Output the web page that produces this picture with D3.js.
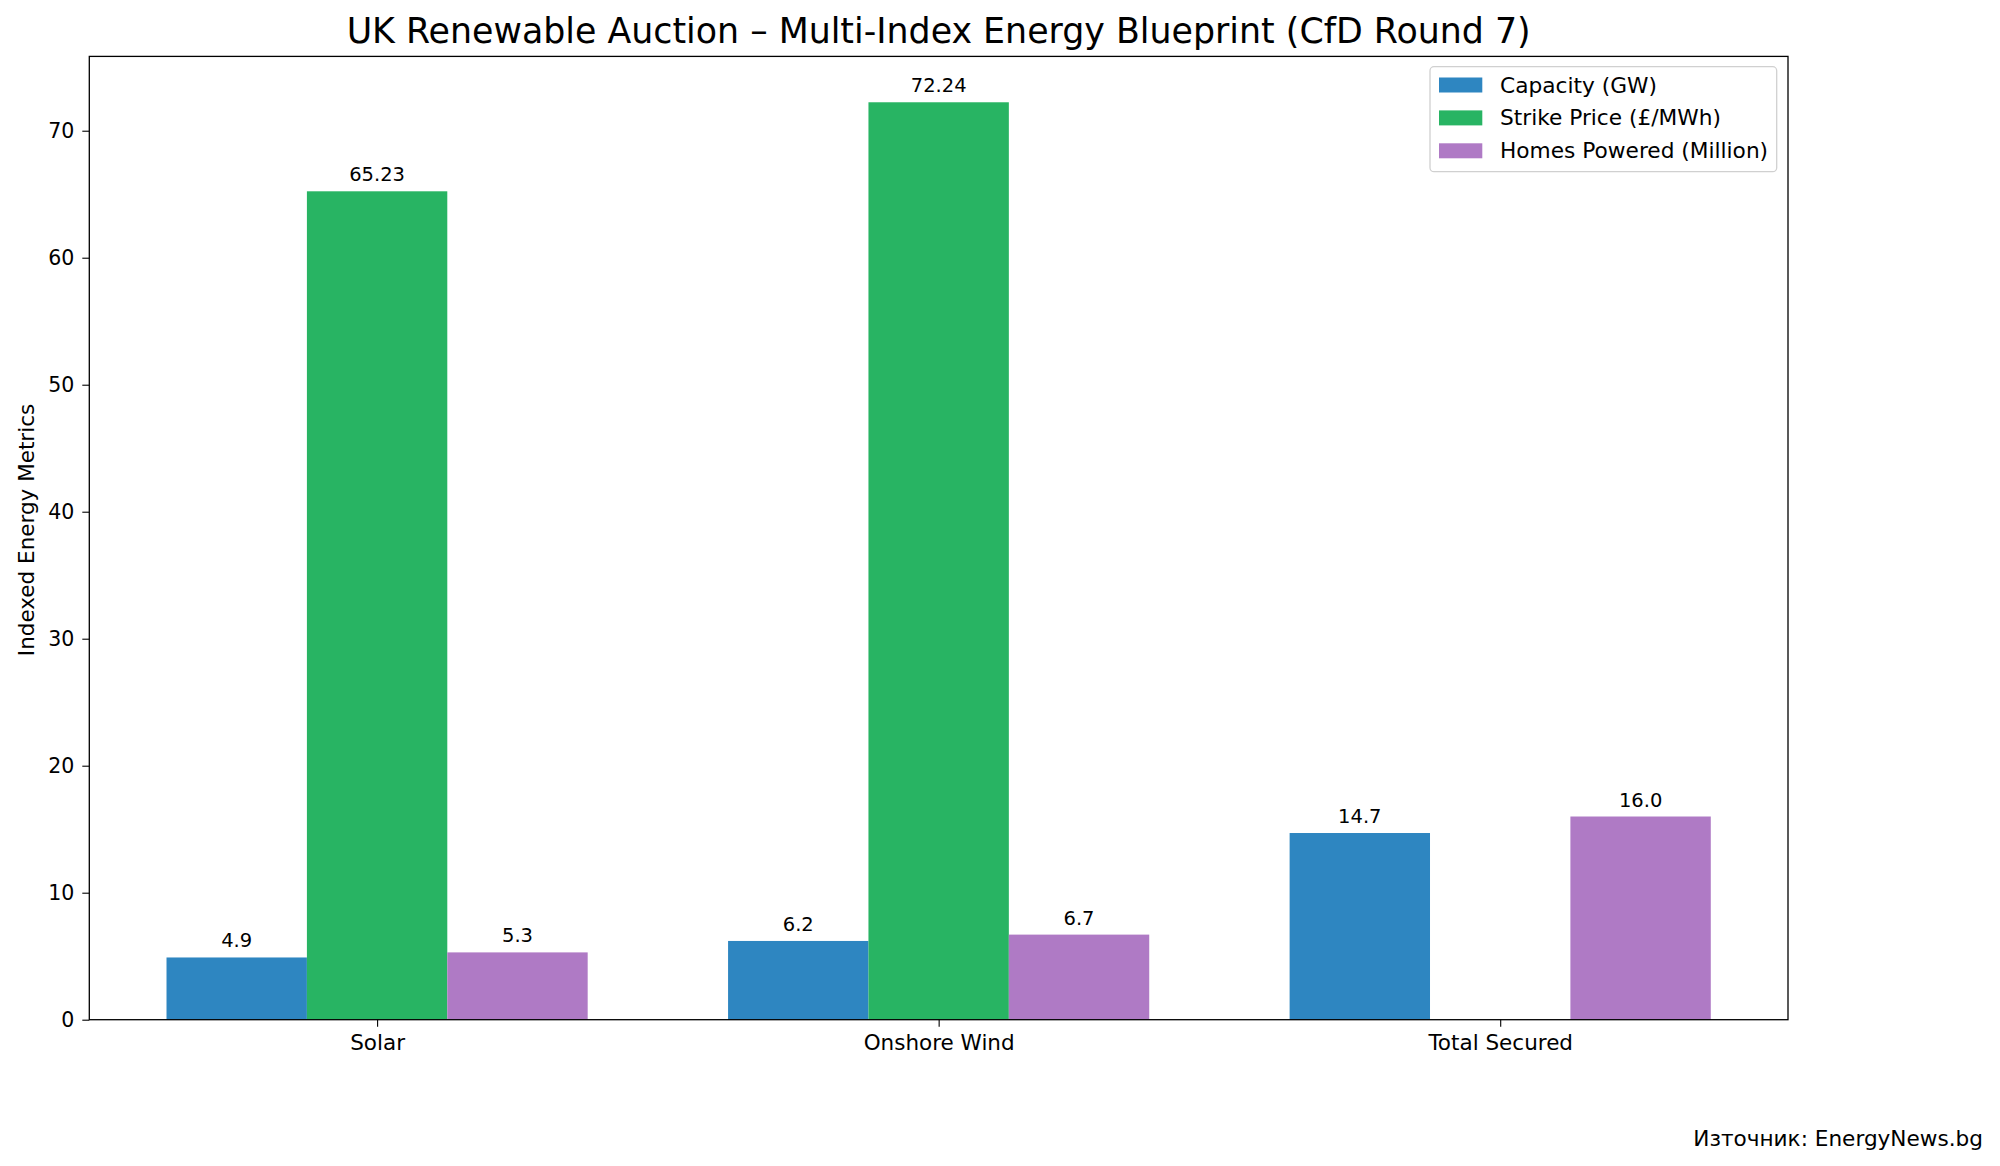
<!DOCTYPE html>
<html>
<head>
<meta charset="utf-8">
<script src="https://cdn.jsdelivr.net/npm/d3@7"></script>
<style>
  html, body { margin: 0; padding: 0; background: #fff; }
  svg { display: block; font-family: "DejaVu Sans", sans-serif; }
</style>
</head>
<body>
<svg id="chart" width="2000" height="1166"></svg>
<script>
const categories = ["Solar", "Onshore Wind", "Total Secured"];
const seriesNames = ["Capacity (GW)", "Strike Price (£/MWh)", "Homes Powered (Million)"];
const capacity = [4.9, 6.2, 14.7];
const strikePrice = [65.23, 72.24, null];
const homesPowered = [5.3, 6.7, 16.0];
const seriesColors = ["#2E86C1", "#28B463", "#AF7AC5"];
const yTicks = [0, 10, 20, 30, 40, 50, 60, 70];
const valueLabels = [
  ["4.9", "6.2", "14.7"],
  ["65.23", "72.24", null],
  ["5.3", "6.7", "16.0"]
];

const series = [capacity, strikePrice, homesPowered];

const svg = d3.select("#chart");
const W = 2000, H = 1166;
const m = { left: 89.3, right: 1788, top: 56.4, bottom: 1019.7 };

const barW = 0.25;
const x = d3.scaleLinear().domain([-0.5125, 2.5125]).range([m.left, m.right]);
const y = d3.scaleLinear().domain([0, 75.852]).range([m.bottom, m.top]);

svg.append("rect").attr("width", W).attr("height", H).attr("fill", "#fff");

// bars
series.forEach((vals, si) => {
  const off = (si - 1) * barW;
  const g = svg.append("g");
  vals.forEach((v, ci) => {
    if (v === null) return;
    const x0 = x(ci + off - barW / 2), x1 = x(ci + off + barW / 2);
    g.append("rect")
      .attr("x", x0).attr("y", y(v))
      .attr("width", x1 - x0).attr("height", y(0) - y(v))
      .attr("fill", seriesColors[si]);
    const lbl = valueLabels[si][ci];
    if (lbl) {
      g.append("text")
        .attr("x", (x0 + x1) / 2).attr("y", y(v) - 10)
        .attr("text-anchor", "middle")
        .attr("font-size", "19.5px").attr("fill", "#000")
        .text(lbl);
    }
  });
});

// frame
svg.append("rect")
  .attr("x", m.left).attr("y", m.top)
  .attr("width", m.right - m.left).attr("height", m.bottom - m.top)
  .attr("fill", "none").attr("stroke", "#000").attr("stroke-width", 1.3);

// y axis
const yAxis = d3.axisLeft(y).tickValues(yTicks).tickSize(7).tickPadding(8).tickFormat(d3.format("d"));
const gy = svg.append("g").attr("transform", `translate(${m.left},0)`).call(yAxis);
gy.select(".domain").remove();
gy.selectAll(".tick line").attr("stroke", "#000").attr("stroke-width", 1.1);
gy.selectAll(".tick text").attr("font-size", "20.5px").attr("fill", "#000").attr("font-family", "DejaVu Sans");

// x axis
const xAxis = d3.axisBottom(x).tickValues([0, 1, 2]).tickSize(7).tickPadding(8).tickFormat(i => categories[i]);
const gx = svg.append("g").attr("transform", `translate(0,${m.bottom})`).call(xAxis);
gx.select(".domain").remove();
gx.selectAll(".tick line").attr("stroke", "#000").attr("stroke-width", 1.1);
gx.selectAll(".tick text").attr("font-size", "21.5px").attr("fill", "#000").attr("font-family", "DejaVu Sans");

// y label
svg.append("text")
  .attr("transform", `translate(26,530) rotate(-90)`)
  .attr("text-anchor", "middle").attr("dominant-baseline", "central")
  .attr("font-size", "21.5px").attr("fill", "#000")
  .text("Indexed Energy Metrics");

// title
svg.append("text")
  .attr("x", (m.left + m.right) / 2).attr("y", 43)
  .attr("text-anchor", "middle")
  .attr("font-size", "34.8px").attr("fill", "#000")
  .text("UK Renewable Auction – Multi-Index Energy Blueprint (CfD Round 7)");

// legend
const lg = svg.append("g");
lg.append("rect")
  .attr("x", 1430).attr("y", 66.7).attr("width", 346.7).attr("height", 105)
  .attr("rx", 4).attr("fill", "#fff").attr("fill-opacity", 0.8)
  .attr("stroke", "#d0d0d0").attr("stroke-width", 1.3);
seriesNames.forEach((name, i) => {
  const cy = 85 + i * 32.9;
  lg.append("rect")
    .attr("x", 1439).attr("y", cy - 7.5).attr("width", 43.3).attr("height", 15)
    .attr("fill", seriesColors[i]);
  lg.append("text")
    .attr("x", 1500).attr("y", cy).attr("dominant-baseline", "central")
    .attr("font-size", "21.7px").attr("fill", "#000")
    .text(name);
});

// source
svg.append("text")
  .attr("x", 1983).attr("y", 1146)
  .attr("text-anchor", "end")
  .attr("font-size", "21.6px").attr("fill", "#000")
  .text("Източник: EnergyNews.bg");
</script>
</body>
</html>
